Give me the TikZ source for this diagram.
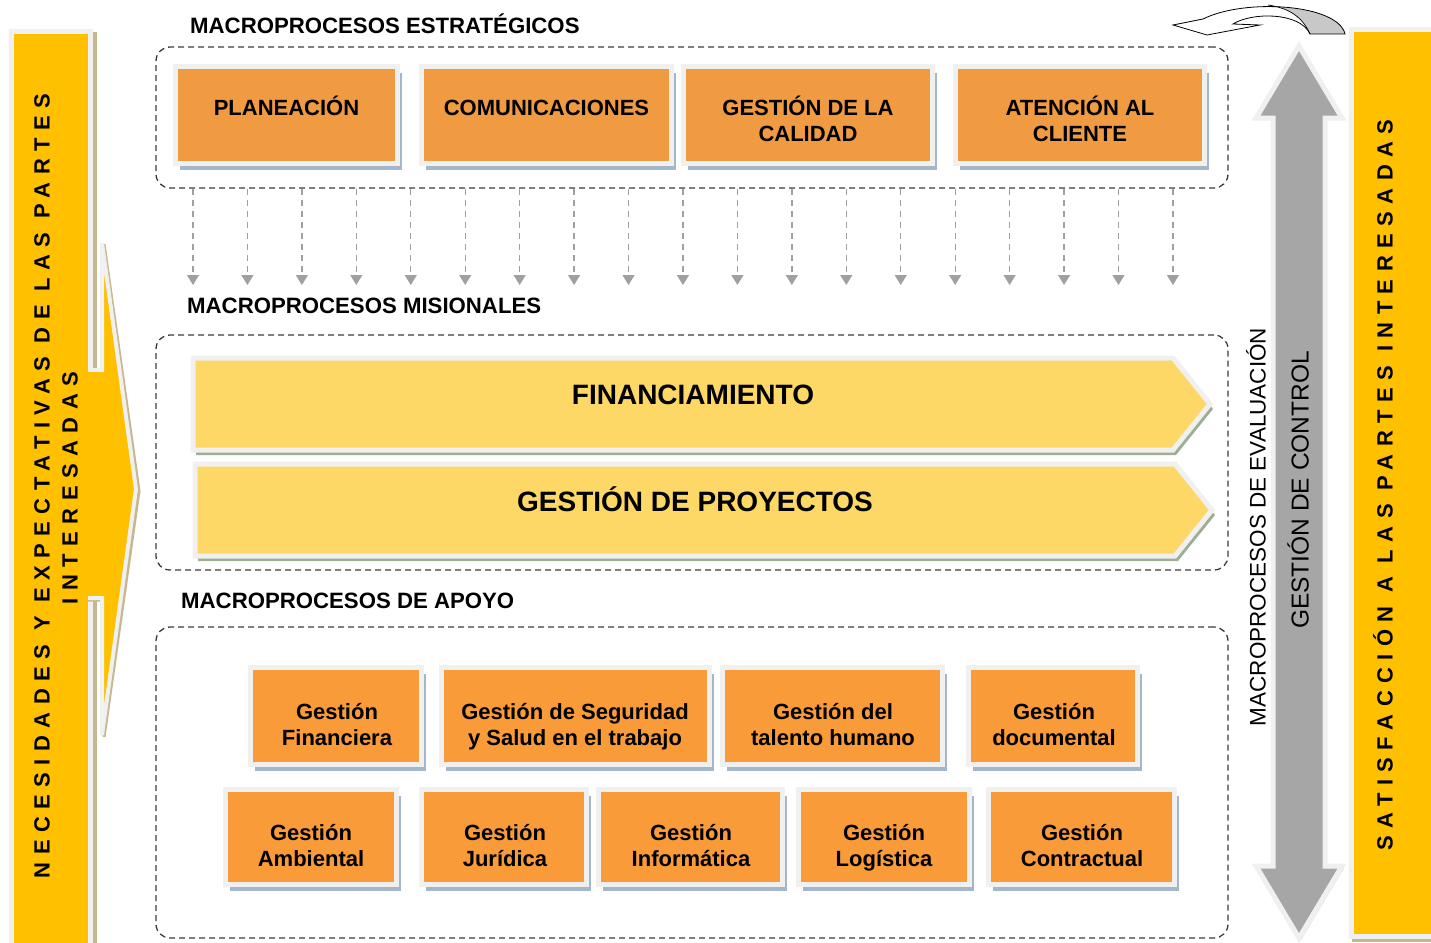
\documentclass[tikz,border=0pt]{standalone}
\usepackage{fontspec}
\setmainfont{Liberation Sans}
\newfontfamily\spaced[LetterSpace=34]{Liberation Sans}
\usetikzlibrary{arrows.meta,shadows}
\definecolor{orA}{HTML}{F09A42}
\definecolor{orB}{HTML}{F89B38}
\definecolor{barY}{HTML}{FFC000}
\definecolor{arrY}{HTML}{FDD866}
\definecolor{frm}{HTML}{F0F0F0}
\definecolor{sblue}{HTML}{A3B6CA}
\definecolor{sgreen}{HTML}{9DAE92}
\definecolor{tanc}{HTML}{C6B78F}
\definecolor{garr}{HTML}{A6A6A6}
\definecolor{dline}{HTML}{3A3A3A}
\definecolor{aline}{HTML}{A0A0A0}
\definecolor{cgrey}{HTML}{C8C8C8}
\begin{document}
\begin{tikzpicture}[x=1pt,y=-1pt,
  procframe/.style={draw=dline, line width=1.3pt, dash pattern=on 6pt off 4pt, rounded corners=14pt, inner sep=0pt},
  obox/.style={draw=frm, line width=5pt, inner sep=0pt, drop shadow={shadow xshift=4.5pt, shadow yshift=-6pt, opacity=1, fill=sblue}},
  topbox/.style={obox, fill=orA, minimum height=97pt},
  botbox/.style={obox, fill=orB},
  txt/.style={font=\fontsize{22}{26}\selectfont\bfseries, align=center, inner sep=0pt, execute at begin node=\strut, execute at end node=\strut},
  bigtxt/.style={font=\fontsize{28}{34}\selectfont\bfseries, inner sep=0pt, execute at begin node=\strut},
  lab/.style={font=\fontsize{22.2}{26}\selectfont\bfseries, anchor=west, inner sep=0pt, execute at begin node=\strut},
  rotlab/.style={rotate=90, inner sep=0pt},
  garrow/.style={draw=aline, line width=1.3pt, dash pattern=on 6pt off 5pt, -{Triangle[width=12pt,length=10pt]}},
  yframe/.style={draw=frm, line width=5pt, fill=arrY, line join=miter},
]
\useasboundingbox (0,0) rectangle (1431,942);

% ---------- left bar with arrow ----------
\fill[fill=tanc] (93,32) rectangle (97,945);
\draw[draw=frm, line width=5pt, fill=barY] (11.5,31.5) rectangle (90.5,950);
\draw[draw=tanc, line width=3pt] (88,372) -- (104,372) -- (104,244) -- (139,491) -- (104,737) -- (104,600) -- (88,600);
\fill[fill=barY] (86,370) -- (102,370) -- (102,243) -- (136,489) -- (102,735) -- (102,598) -- (86,598) -- cycle;
\draw[draw=frm, line width=4pt, line join=miter] (88,370) -- (102,370) -- (102,243) -- (136,489) -- (102,735) -- (102,598) -- (88,598);
\fill[fill=barY] (60,372) rectangle (100,596);

\node[rotlab, font=\fontsize{22}{26}\selectfont\spaced\bfseries] (nec) at (42,486) {NECESIDADES Y EXPECTATIVAS DE LAS PARTES};
\node[rotlab, font=\fontsize{22}{26}\selectfont\spaced\bfseries] (int) at (70,488) {INTERESADAS};

% ---------- right bar ----------
\fill[fill=tanc] (1352,936) rectangle (1431,942);
\draw[draw=frm, line width=5pt, fill=barY] (1351.5,29.5) rectangle (1440,936.5);
\node[rotlab, font=\fontsize{22}{26}\selectfont\spaced\bfseries] (sat) at (1383,485) {SATISFACCIÓN A LAS PARTES INTERESADAS};

% ---------- grey double arrow ----------
\fill[fill=gray!35] ([shift={(2,2)}]1299,46) -- ([shift={(2,2)}]1342,118) -- ([shift={(2,2)}]1325,118) -- ([shift={(2,2)}]1325,866) -- ([shift={(2,2)}]1342,866) -- ([shift={(2,2)}]1299,938) -- ([shift={(2,2)}]1256,866) -- ([shift={(2,2)}]1273,866) -- ([shift={(2,2)}]1273,118) -- ([shift={(2,2)}]1256,118) -- cycle;
\draw[draw=frm, line width=5pt, fill=garr, line join=miter] (1299,46) -- (1342,118) -- (1325,118) -- (1325,866) -- (1342,866) -- (1299,938) -- (1256,866) -- (1273,866) -- (1273,118) -- (1256,118) -- cycle;
\node[rotlab, font=\fontsize{24.5}{28}\selectfont] (ctl) at (1298,490) {GESTIÓN DE CONTROL};
\node[rotlab, font=\fontsize{22.5}{26}\selectfont] (eva) at (1256,527) {MACROPROCESOS DE EVALUACIÓN};

% ---------- curved arrow ----------
\begin{scope}
  \clip (1345,34) .. controls (1338,4) and (1245,-2) .. (1203,19) -- (1173,25) -- (1207,35) -- (1260,25) -- (1233,24) .. controls (1252,12) and (1300,12) .. (1310,34) -- cycle;
  \fill[fill=white] (1160,0) rectangle (1360,40);
  \fill[fill=cgrey] (1310,34) .. controls (1302,16) and (1288,8) .. (1268,4) -- (1360,0) -- (1360,40) -- cycle;
\end{scope}
\draw[draw=black, line width=0.7pt] (1310,34) .. controls (1302,16) and (1288,8) .. (1268,5);
\draw[draw=black, line width=0.8pt, line join=miter] (1345,34) .. controls (1338,4) and (1245,-2) .. (1203,19) -- (1173,25) -- (1207,35) -- (1260,25) -- (1233,24) .. controls (1252,12) and (1300,12) .. (1310,34) -- cycle;

% ---------- dashed frames ----------
\node[procframe, minimum width=1072pt, minimum height=141pt] (strat) at (692,117.5) {};
\node[procframe, minimum width=1072pt, minimum height=235pt] (mis) at (692,452.5) {};
\node[procframe, minimum width=1072pt, minimum height=311pt] (apo) at (692,782.5) {};

\node[lab] (labS) at (190,28) {MACROPROCESOS ESTRATÉGICOS};
\node[lab] (labM) at (187,308) {MACROPROCESOS MISIONALES};
\node[lab] (labA) at (181,603) {MACROPROCESOS DE APOYO};

% ---------- strategic boxes ----------
\node[topbox, minimum width=222pt] (b1) at (286.5,115) {};
\node[topbox, minimum width=250pt] (b2) at (546.5,115) {};
\node[topbox, minimum width=249pt] (b3) at (808,115) {};
\node[topbox, minimum width=249pt] (b4) at (1080,115) {};
\node[txt] (t1) at (286.5,110) {PLANEACIÓN};
\node[txt] (t2) at (546.5,110) {COMUNICACIONES};
\node[txt] (t3) at (808,122.5) {GESTIÓN DE LA\\CALIDAD};
\node[txt] (t4) at (1080,122.5) {ATENCIÓN AL\\CLIENTE};

% ---------- dashed arrows ----------
\foreach \i in {0,...,18} {
  \coordinate (a\i) at ({193+54.44*\i},285);
  \draw[garrow] (strat.south -| a\i) -- (a\i);
}

% ---------- mission arrows ----------
\fill[fill=sgreen] (196,363) -- (1176,363) -- (1213,409) -- (1176,455) -- (196,455) -- cycle;
\draw[yframe] (193,358) -- (1173,358) -- (1210,404) -- (1173,450) -- (193,450) -- cycle;
\fill[fill=sgreen] (198,469) -- (1178,469) -- (1215,515) -- (1178,561) -- (198,561) -- cycle;
\draw[yframe] (195,464) -- (1175,464) -- (1212,510) -- (1175,556) -- (195,556) -- cycle;
\node[bigtxt] (fin) at (693,398) {FINANCIAMIENTO};
\node[bigtxt] (proy) at (695,504) {GESTIÓN DE PROYECTOS};

% ---------- support boxes ----------
\node[botbox, minimum width=171pt, minimum height=97pt] (f1) at (336,716) {};
\node[botbox, minimum width=268pt, minimum height=97pt] (f2) at (575.5,716) {};
\node[botbox, minimum width=220pt, minimum height=97pt] (f3) at (832.5,716) {};
\node[botbox, minimum width=169pt, minimum height=97pt] (f4) at (1053,716) {};
\node[botbox, minimum width=171pt, minimum height=95pt] (g1) at (311,837) {};
\node[botbox, minimum width=165pt, minimum height=95pt] (g2) at (504,837) {};
\node[botbox, minimum width=184pt, minimum height=95pt] (g3) at (690.5,837) {};
\node[botbox, minimum width=171pt, minimum height=95pt] (g4) at (884,837) {};
\node[botbox, minimum width=186pt, minimum height=95pt] (g5) at (1081.5,837) {};

\node[txt] (u1) at (337,728.5) {Gestión\\Financiera};
\node[txt] (u2) at (575,728.5) {Gestión de Seguridad\\y Salud en el trabajo};
\node[txt] (u3) at (833,728.5) {Gestión del\\talento humano};
\node[txt] (u4) at (1054,728.5) {Gestión\\documental};
\node[txt] (v1) at (311,849) {Gestión\\Ambiental};
\node[txt] (v2) at (505,849) {Gestión\\Jurídica};
\node[txt] (v3) at (691,849) {Gestión\\Informática};
\node[txt] (v4) at (884,849) {Gestión\\Logística};
\node[txt] (v5) at (1082,849) {Gestión\\Contractual};
\end{tikzpicture}
\end{document}
